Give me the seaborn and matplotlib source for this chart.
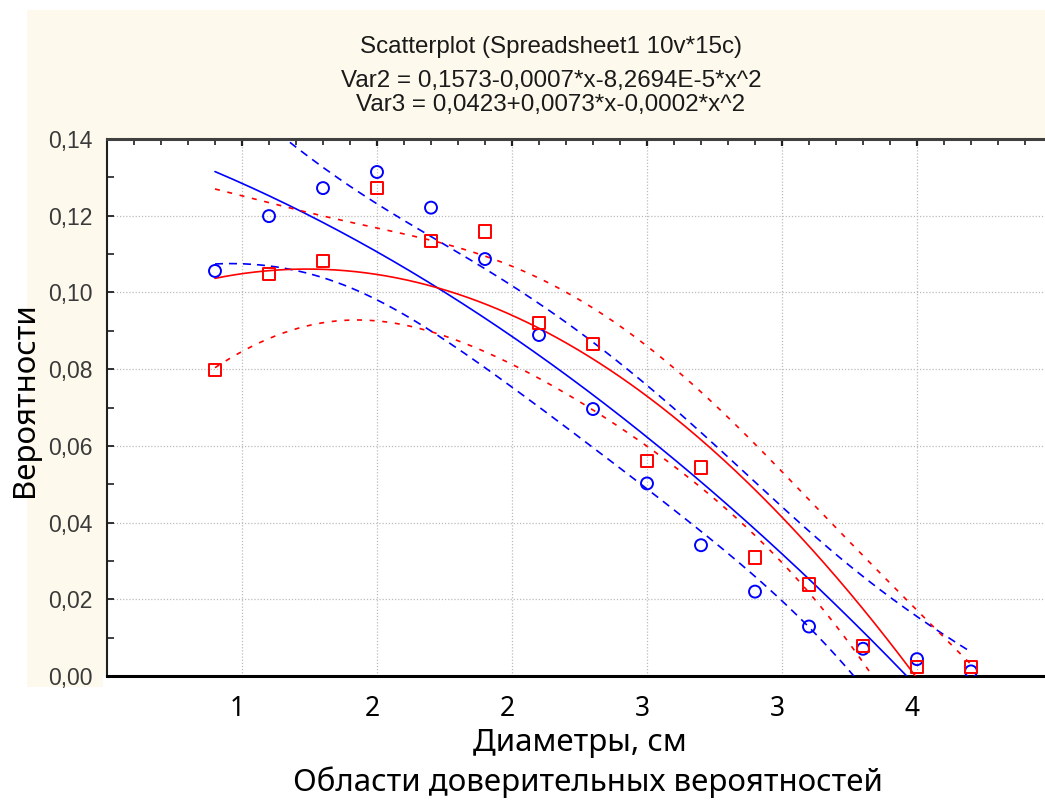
import numpy as np
import matplotlib
matplotlib.use("Agg")
import matplotlib.pyplot as plt
import matplotlib.transforms as mtransforms
from matplotlib.patches import Rectangle
from matplotlib.ticker import FixedLocator, MultipleLocator, FuncFormatter
import seaborn as sns

# Diameter (mm) and observed probabilities for the two variables
diameter_mm = [14, 16, 18, 20, 22, 24, 26, 28, 30, 32, 34, 36, 38, 40, 42]
var2 = [0.1056, 0.1199, 0.1272, 0.1314, 0.1221, 0.1087, 0.0889, 0.0696,
        0.0502, 0.0341, 0.0220, 0.0129, 0.0071, 0.0044, 0.0012]
var3 = [0.0798, 0.1048, 0.1082, 0.1272, 0.1134, 0.1159, 0.0920, 0.0866,
        0.0561, 0.0544, 0.0309, 0.0239, 0.0078, 0.0023, 0.0023]

x_ticks = [15, 20, 25, 30, 35, 40]
x_tick_labels = ["1", "2", "2", "3", "3", "4"]
y_ticks = [0.00, 0.02, 0.04, 0.06, 0.08, 0.10, 0.12, 0.14]

title_lines = [
    "Scatterplot (Spreadsheet1 10v*15c)",
    "Var2 = 0,1573-0,0007*x-8,2694E-5*x^2",
    "Var3 = 0,0423+0,0073*x-0,0002*x^2",
]

T_975_DF12 = 2.1788  # Student t quantile, 95 %, 15 points - 3 parameters


def quadratic_fit(x, y, t=T_975_DF12, n=300):
    x = np.asarray(x, float)
    y = np.asarray(y, float)
    X = np.column_stack([np.ones_like(x), x, x ** 2])
    beta, *_ = np.linalg.lstsq(X, y, rcond=None)
    resid = y - X @ beta
    s2 = resid @ resid / (len(x) - 3)
    cov = s2 * np.linalg.inv(X.T @ X)
    grid = np.linspace(x.min(), x.max(), n)
    G = np.column_stack([np.ones_like(grid), grid, grid ** 2])
    fit = G @ beta
    se = np.sqrt(np.einsum("ij,jk,ik->i", G, cov, G))
    return grid, fit, fit - t * se, fit + t * se


sns.set_theme(style="white")
plt.rcParams["font.family"] = ["Liberation Sans", "DejaVu Sans"]

W, H = 1045, 800
fig = plt.figure(figsize=(W / 100, H / 100), dpi=100)
fig.patch.set_facecolor("white")

# beige graph window behind the plot area
fig.patches.append(Rectangle((27 / W, 1 - 687 / H), (W - 27) / W, (687 - 10) / H,
                             transform=fig.transFigure, facecolor="#FDF9EC",
                             edgecolor="none", zorder=0))
fig.patches.append(Rectangle((103 / W, 1 - 692 / H), (W - 103) / W, 16 / H,
                             transform=fig.transFigure, facecolor="white",
                             edgecolor="none", zorder=0.5))

ax = fig.add_axes([107 / W, 1 - 676 / H, (W - 107) / W, (676 - 139) / H])
ax.set_zorder(2)
ax.set_facecolor("white")

# values, colour, marker, marker size, marker edge width, band dash pattern
series = [
    (var2, "blue", "o", 74, 1.4, (0, (4.8, 3.6))),
    (var3, "red", "s", 82, 1.4, (0, (3.0, 4.6))),
]

for values, col, _, _, _, dash in series:
    grid, fit, lo, hi = quadratic_fit(diameter_mm, values)
    sns.lineplot(x=grid, y=fit, color=col, linewidth=1.2, ax=ax,
                 estimator=None, errorbar=None, zorder=3)
    for band in (lo, hi):
        sns.lineplot(x=grid, y=band, color=col, linewidth=1.2, linestyle=dash,
                     ax=ax, estimator=None, errorbar=None, zorder=3)

for values, col, mk, size, ew, _ in series:
    sns.scatterplot(x=diameter_mm, y=values, marker=mk, s=size, color=col,
                    facecolor="none", edgecolor=col, linewidth=ew, ax=ax,
                    zorder=4)

ax.set_xlim(10, 10 + (W - 107) / 27)
ax.set_ylim(0, 0.14)

ax.xaxis.set_major_locator(FixedLocator(x_ticks))
ax.xaxis.set_minor_locator(MultipleLocator(1))
ax.set_xticklabels(x_tick_labels)
ax.yaxis.set_major_locator(FixedLocator(y_ticks))
ax.yaxis.set_minor_locator(MultipleLocator(0.01))
ax.yaxis.set_major_formatter(FuncFormatter(lambda v, _: f"{v:.2f}".replace(".", ",")))

ax.grid(True, which="major", color="#bcbcbc", linestyle=(0, (1, 1.5)), linewidth=0.9)
ax.set_axisbelow(True)

ax.tick_params(axis="x", which="both", direction="in", top=True, bottom=False,
               labeltop=False, labelbottom=True, color="#202020")
ax.tick_params(axis="x", which="major", length=5, width=1.6, pad=14)
ax.tick_params(axis="x", which="minor", length=4, width=1.2)
ax.tick_params(axis="y", which="both", direction="in", left=True, right=False,
               color="#202020", labelcolor="#3a3a3a", labelsize=16.5)
ax.tick_params(axis="y", which="major", length=5, width=1.3, pad=10.5)
ax.tick_params(axis="y", which="minor", length=5, width=1.2)

for lab in ax.get_xticklabels():
    lab.set_family(["Noto Sans", "DejaVu Sans"])
    lab.set_fontsize(19)
    lab.set_color("black")
    lab.set_transform(lab.get_transform() +
                      mtransforms.ScaledTranslation(-5 / 100, 0, fig.dpi_scale_trans))

ax.spines["right"].set_visible(False)
ax.spines["top"].set_color("#404040")
ax.spines["top"].set_linewidth(2.2)
ax.spines["left"].set_color("#202020")
ax.spines["left"].set_linewidth(1.5)
ax.spines["bottom"].set_color("black")
ax.spines["bottom"].set_linewidth(2.2)

ax.set_xlabel("")
ax.set_ylabel("")

# graph title, three centred lines
for txt, base in zip(title_lines, [52.5, 87.5, 111]):
    fig.text(551 / W, 1 - base / H, txt, ha="center", va="baseline",
             fontsize=17.4, color="#1a1a1a")

cap_font = ["Noto Sans", "DejaVu Sans"]
fig.text(25 / W, 1 - 400 / H, "Вероятности", rotation=90, ha="center",
         va="center", fontsize=22.5, family=cap_font, color="black")
fig.text(580 / W, 1 - 743 / H, "Диаметры, см", ha="center", va="center",
         fontsize=22.5, family=cap_font, color="black")
fig.text(588 / W, 1 - 782 / H, "Области доверительных вероятностей",
         ha="center", va="center", fontsize=22.5, family=cap_font, color="black")

fig.savefig("out.png", dpi=100, facecolor=fig.get_facecolor())
